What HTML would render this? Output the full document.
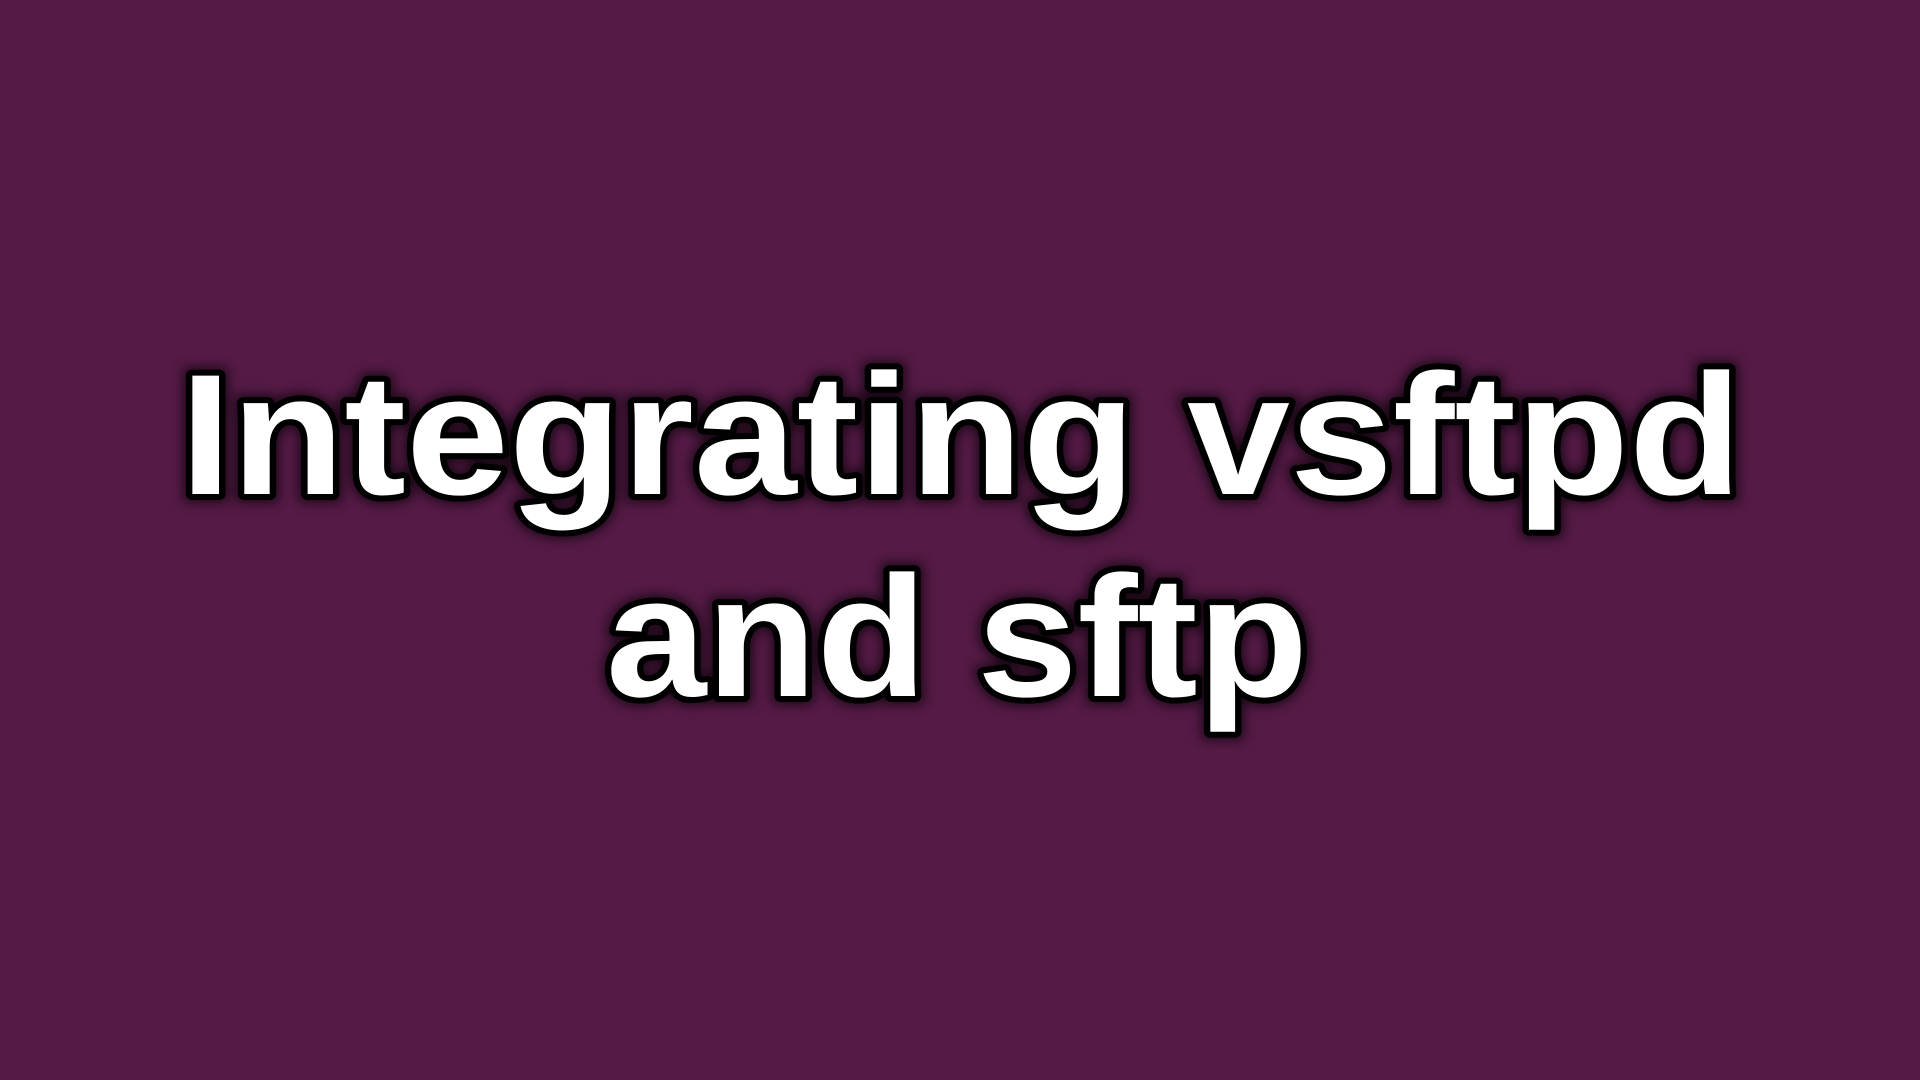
<!DOCTYPE html>
<html><head><meta charset="utf-8"><style>
html,body{margin:0;padding:0;background:#551a46;width:1920px;height:1080px;overflow:hidden}
svg{display:block}
</style></head><body>
<svg width="1920" height="1080" viewBox="0 0 1920 1080" xmlns="http://www.w3.org/2000/svg">
<defs><filter id="g" x="-10%" y="-30%" width="120%" height="160%"><feGaussianBlur stdDeviation="6"/></filter></defs>
<rect width="1920" height="1080" fill="#551a46"/>
<g font-family="'Liberation Sans','DejaVu Sans',sans-serif" font-size="172" font-weight="bold" text-anchor="start">
<g filter="url(#g)" opacity="0.7" fill="#000" stroke="#000" stroke-width="16">
<text x="180" y="494" textLength="1562" lengthAdjust="spacingAndGlyphs">Integrating vsftpd</text>
<text x="606" y="696" textLength="702" lengthAdjust="spacingAndGlyphs">and sftp</text>
</g>
<g fill="#fff" stroke="#000" stroke-width="12" paint-order="stroke" stroke-linejoin="round">
<text x="180" y="494" textLength="1562" lengthAdjust="spacingAndGlyphs">Integrating vsftpd</text>
<text x="606" y="696" textLength="702" lengthAdjust="spacingAndGlyphs">and sftp</text>
</g>
</g>
</svg>
</body></html>
